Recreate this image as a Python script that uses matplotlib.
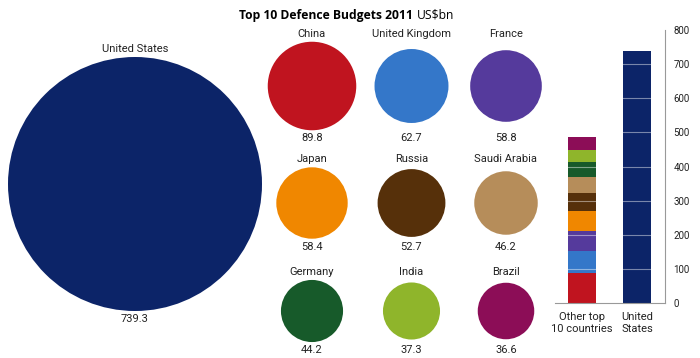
import numpy as np
import matplotlib
matplotlib.use('Agg')
import matplotlib.pyplot as plt
from matplotlib.patches import Circle

# data (US$bn, 2011)
us_value = 739.3
countries = ['China', 'United Kingdom', 'France',
             'Japan', 'Russia', 'Saudi Arabia',
             'Germany', 'India', 'Brazil']
values = [89.8, 62.7, 58.8, 58.4, 52.7, 46.2, 44.2, 37.3, 36.6]
colors = ['#c0141f', '#3477c9', '#553a9c',
          '#f08700', '#56300a', '#b68d5a',
          '#175a2a', '#8fb52b', '#8c0d57']
us_color = '#0c2468'
bar_labels = ['Other top\n10 countries', 'United\nStates']
yticks = [0, 100, 200, 300, 400, 500, 600, 700, 800]

label_font = ['Liberation Sans Narrow', 'Roboto', 'DejaVu Sans']

fig = plt.figure(figsize=(7, 3.58), dpi=100)

# bubbles drawn in pixel coordinates of the whole figure
ax = fig.add_axes([0, 0, 1, 1])
ax.set_xlim(0, 700)
ax.set_ylim(358, 0)
ax.set_aspect('equal')
ax.axis('off')

k = 127 / np.sqrt(us_value)  # radius per sqrt(value), area proportional

def bubble(cx, cy, v, name, color, rmax):
    r = k * np.sqrt(v)
    ax.add_patch(Circle((cx, cy), r, color=color, lw=0))
    ax.text(cx, cy - rmax - 3, name, ha='center', va='bottom',
            fontsize=8, family=label_font, color='#222222')
    ax.text(cx, cy + rmax + 3, '%.1f' % v, ha='center', va='top',
            fontsize=8, family=label_font, color='#222222')

bubble(135, 184, us_value, 'United States', us_color, k * np.sqrt(us_value))

col_x = [312, 411.5, 506]
row_y = [86, 203, 311]
for i in range(3):
    row_vals = values[i * 3:(i + 1) * 3]
    rmax = k * np.sqrt(max(row_vals))
    for j in range(3):
        n = i * 3 + j
        bubble(col_x[j], row_y[i], values[n], countries[n], colors[n], rmax)

# title
ax.text(413, 15, 'Top 10 Defence Budgets 2011', ha='right', va='center',
        fontsize=8.7, fontweight='bold', family=['Open Sans', 'DejaVu Sans'])
ax.text(417, 15, r'US\$bn', ha='left', va='center',
        fontsize=8.7, family=['Open Sans', 'DejaVu Sans'])

# stacked bar comparison
bx = fig.add_axes([555 / 700, (358 - 303.3) / 358, 110 / 700, 273.3 / 358])
w = 28 / 55
bottom = 0
for v, c in zip(values, colors):
    bx.bar(0, v, w, bottom=bottom, color=c, lw=0, zorder=2)
    bottom += v
bx.bar(1, us_value, w, color=us_color, lw=0, zorder=2)
for t in yticks[1:-1]:
    bx.axhline(t, color='white', alpha=0.45, lw=0.8, zorder=3)

bx.set_xlim(-27 / 55, 1 + 28 / 55)
bx.set_ylim(0, 800)
bx.set_yticks(yticks)
bx.yaxis.tick_right()
bx.set_xticks([0, 1])
bx.set_xticklabels(bar_labels, family=label_font, fontsize=8, color='#222222',
                   linespacing=1.35)
for lbl in bx.get_yticklabels():
    lbl.set_family(label_font)
    lbl.set_fontsize(7)
    lbl.set_color('#222222')
bx.tick_params(axis='both', length=0)
bx.tick_params(axis='y', pad=6)
bx.tick_params(axis='x', pad=6)
bx.spines['left'].set_visible(False)
bx.spines['top'].set_visible(False)
bx.spines['right'].set_color('#999999')
bx.spines['bottom'].set_color('#999999')

fig.savefig('out.png', dpi=100)
